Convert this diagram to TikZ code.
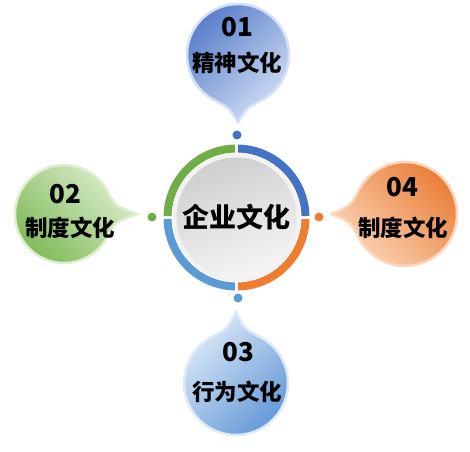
\documentclass[tikz,border=0pt]{standalone}
\usepackage{fontspec}
\usepackage{xcolor}
\usepackage{tikz}
\newfontfamily\cjk{Noto Sans CJK SC}

% ring and dot colours
\definecolor{ringblue}{RGB}{68,114,196}
\definecolor{ringorange}{RGB}{237,125,49}
\definecolor{ringgreen}{RGB}{112,173,71}
\definecolor{ringlblue}{RGB}{91,155,213}

% bubble colours (dark / light)
\definecolor{bluedark}{RGB}{82,122,200}
\definecolor{bluelight}{RGB}{212,224,245}
\definecolor{greendark}{RGB}{125,185,85}
\definecolor{greenlight}{RGB}{222,238,208}
\definecolor{orangedark}{RGB}{232,122,50}
\definecolor{orangelight}{RGB}{252,215,188}
\definecolor{lbluedark}{RGB}{95,150,215}
\definecolor{lbluelight}{RGB}{222,234,247}

% speech bubble: #1 centre, #2 direction of tail, #3 radius, #4 tip distance,
% #5 dark colour, #6 light colour, #7 shading angle
\newcommand{\drawbubble}[7]{%
  \begin{scope}[shift={#1}]
    \path[draw=#6, line width=2.5pt, top color=#5, bottom color=#6, shading angle=#7]
      ({#2+25}:{#3}) .. controls ({#2+9}:{#3+3}) .. ({#2}:{#4})
      .. controls ({#2-9}:{#3+3}) .. ({#2-25}:{#3})
      arc[start angle={#2-25}, end angle={#2-335}, radius=#3] -- cycle;
  \end{scope}}

\begin{document}
\begin{tikzpicture}[x=1pt,y=-1pt,
  numtext/.style={font=\cjk\bfseries\fontsize{26}{26}\selectfont},
  labtext/.style={font=\cjk\bfseries\fontsize{22.5}{22.5}\selectfont},
  coretext/.style={font=\cjk\bfseries\fontsize{27}{27}\selectfont},
  dot/.style={circle,inner sep=0pt,minimum size=9pt}]
\useasboundingbox (0,0) rectangle (470,451);

% centre of the diagram
\coordinate (c) at (236.5,217.5);

% four speech bubbles
\drawbubble{(238,55)}{90}{51}{67}{bluedark}{bluelight}{45}
\drawbubble{(64,214)}{0}{49}{73}{greendark}{greenlight}{135}
\drawbubble{(405,214)}{180}{52}{73}{orangedark}{orangelight}{-45}
\drawbubble{(236,383)}{270}{52}{71}{lbluedark}{lbluelight}{-135}

% coloured ring round the centre
\foreach \s/\col in {0/ringorange,90/ringlblue,180/ringgreen,270/ringblue}
  \draw[\col, line width=8pt] (c) ++(\s+1.2:69) arc[start angle=\s+1.2, end angle=\s+88.8, radius=69];

% grey disc
\fill[gray!10] (c) circle[radius=64];
\shade[top color=gray!38, bottom color=gray!8, shading angle=20] (c) circle[radius=60];
\node[coretext] (core) at (c) {企业文化};

% small dots
\node[dot, fill=ringblue] (d1) at (237,135) {};
\node[dot, fill=ringgreen] (d2) at (152,217) {};
\node[dot, fill=ringorange] (d4) at (319,217) {};
\node[dot, fill=ringlblue] (d3) at (238,298) {};

% bubble texts
\node[numtext] (n1) at (237,27) {01};
\node[labtext] (t1) at (237,63) {精神文化};
\node[numtext] (n2) at (65,194) {02};
\node[labtext] (t2) at (70,228) {制度文化};
\node[numtext] (n4) at (402,187) {04};
\node[labtext] (t4) at (403,228) {制度文化};
\node[numtext] (n3) at (238,352) {03};
\node[labtext] (t3) at (237,392) {行为文化};

\end{tikzpicture}
\end{document}
